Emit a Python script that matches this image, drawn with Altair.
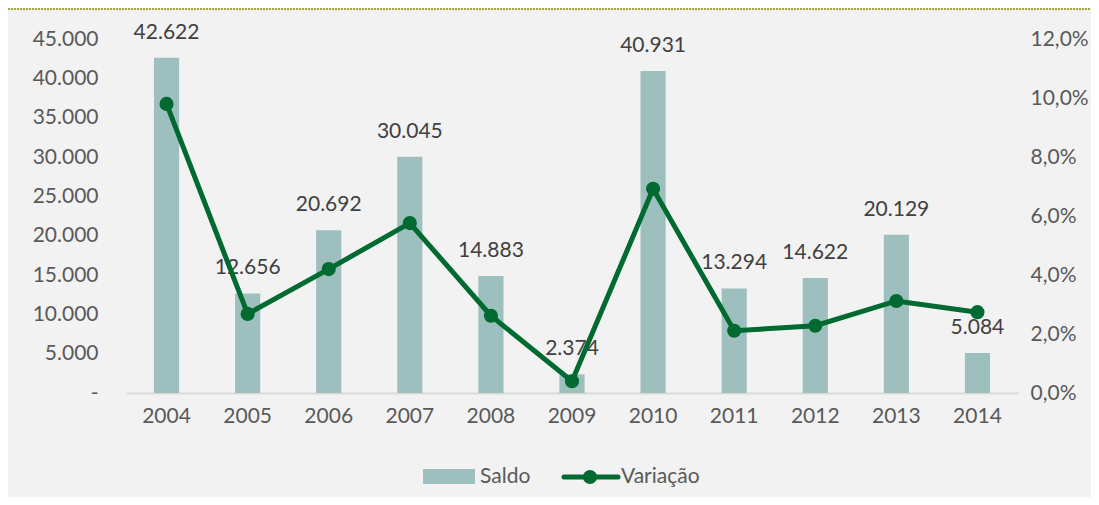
import altair as alt
import pandas as pd

years = ["2004", "2005", "2006", "2007", "2008", "2009", "2010", "2011", "2012", "2013", "2014"]
saldo = [42622, 12656, 20692, 30045, 14883, 2374, 40931, 13294, 14622, 20129, 5084]
variacao = [0.098, 0.0268, 0.042, 0.0576, 0.0262, 0.0040, 0.0692, 0.0211, 0.0228, 0.0312, 0.0274]

df = pd.DataFrame({"ano": years, "saldo": saldo, "variacao": variacao})

FONT = "Lato"
BAR = "#9dbfbd"
GREEN = "#006a30"
TICK = "#595959"
LAB = "#404040"

base = alt.Chart(df).encode(
    x=alt.X("ano:N", sort=years, title=None,
            scale=alt.Scale(paddingInner=0.69, paddingOuter=0.345),
            axis=alt.Axis(labelAngle=0, labelFontSize=21, labelColor=TICK, labelFont=FONT,
                          ticks=False, labelPadding=12, domainColor="#d9d9d9", domainWidth=2,
                          grid=False))
)

yL = alt.Y("saldo:Q", title=None,
           scale=alt.Scale(domain=[0, 45000]),
           axis=alt.Axis(values=[0, 5000, 10000, 15000, 20000, 25000, 30000, 35000, 40000, 45000],
                         labelExpr="datum.value == 0 ? '-' : replace(format(datum.value, ',d'), ',', '.')",
                         labelFontSize=21, labelColor=TICK, labelFont=FONT, ticks=False,
                         domain=False, grid=False, labelPadding=28))

yR = alt.Y("variacao:Q", title=None, scale=alt.Scale(domain=[0, 0.12]),
           axis=alt.Axis(orient="right", values=[0, 0.02, 0.04, 0.06, 0.08, 0.10, 0.12],
                         labelExpr="replace(format(datum.value, '.1%'), '.', ',')",
                         labelFontSize=21, labelColor=TICK, labelFont=FONT, ticks=False,
                         domain=False, grid=False, labelPadding=12))

bars = base.mark_bar(color=BAR).encode(y=yL)

labels = base.transform_calculate(
    lbl="replace(format(datum.saldo, ',d'), ',', '.')"
).mark_text(dy=-25, fontSize=21, font=FONT, color=LAB).encode(y=yL, text="lbl:N")

left = alt.layer(bars, labels)

line = base.mark_line(color=GREEN, strokeWidth=5).encode(y=yR)
points = base.mark_circle(color=GREEN, size=200, opacity=1).encode(y=yR)
right = alt.layer(line, points)

# legend (decoration)
leg_df = pd.DataFrame({"k": [0]})
leg = alt.Chart(leg_df)
leg_bar = leg.mark_rect(color=BAR).encode(x=alt.value(297), x2=alt.value(349), y=alt.value(430), y2=alt.value(445))
leg_t1 = leg.mark_text(align="left", baseline="middle", fontSize=21, font=FONT, color=TICK, text="Saldo").encode(
    x=alt.value(354), y=alt.value(438))
leg_line = leg.mark_rule(color=GREEN, strokeWidth=5, strokeCap="round").encode(
    x=alt.value(438), x2=alt.value(492), y=alt.value(438))
leg_pt = leg.mark_circle(color=GREEN, size=200, opacity=1).encode(x=alt.value(464), y=alt.value(438))
leg_t2 = leg.mark_text(align="left", baseline="middle", fontSize=21, font=FONT, color=TICK, text="Variação").encode(
    x=alt.value(495), y=alt.value(438))
top_rule = leg.mark_rule(color="#a5a53c", strokeWidth=2, strokeDash=[2, 1]).encode(
    x=alt.value(-118), x2=alt.value(965), y=alt.value(-30))
legend = alt.layer(leg_bar, leg_t1, leg_line, leg_pt, leg_t2, top_rule)

chart = alt.layer(left, right, legend).resolve_scale(y="independent").properties(
    width=892, height=354,
    autosize=alt.AutoSizeParams(type="none"),
    padding={"left": 118, "right": 73, "top": 31, "bottom": 104},
    background="#f2f2f2"
).configure_view(stroke=None)

chart.save("out.html", embed_options={"renderer": "svg", "actions": False})
